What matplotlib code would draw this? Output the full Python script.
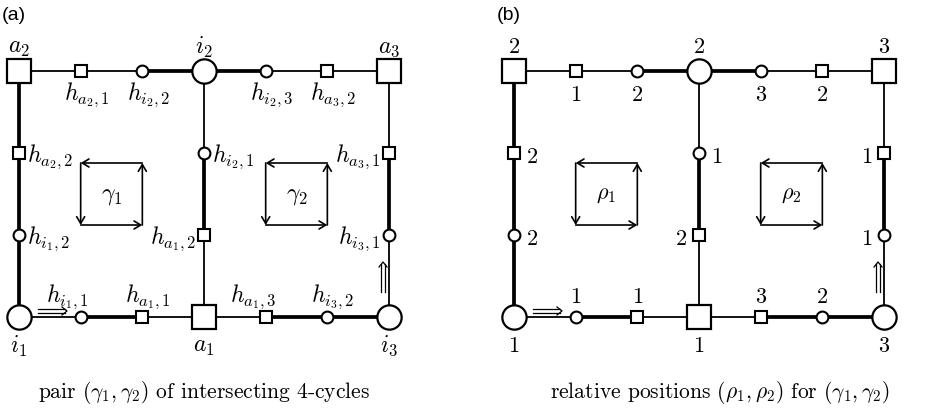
import matplotlib.pyplot as plt
from matplotlib.patches import FancyArrowPatch

plt.rcParams["mathtext.fontset"] = "cm"

# grid of 7 columns x 4 rows, cells given as (col, row)
big_cells = [(0, 0), (3, 0), (6, 0), (0, 3), (3, 3), (6, 3)]
big_kinds = ["s", "o", "s", "o", "s", "o"]
big_names = [r"$a_2$", r"$i_2$", r"$a_3$", r"$i_1$", r"$a_1$", r"$i_3$"]
big_ranks = [r"$2$", r"$2$", r"$3$", r"$1$", r"$1$", r"$3$"]

small_cells = [(1, 0), (2, 0), (4, 0), (5, 0),
               (1, 3), (2, 3), (4, 3), (5, 3),
               (0, 1), (0, 2), (3, 1), (3, 2), (6, 1), (6, 2)]
small_kinds = ["s", "o", "o", "s",
               "o", "s", "s", "o",
               "s", "o", "o", "s", "s", "o"]
small_names = [r"$h_{a_2,1}$", r"$h_{i_2,2}$", r"$h_{i_2,3}$", r"$h_{a_3,2}$",
               r"$h_{i_1,1}$", r"$h_{a_1,1}$", r"$h_{a_1,3}$", r"$h_{i_3,2}$",
               r"$h_{a_2,2}$", r"$h_{i_1,2}$", r"$h_{i_2,1}$", r"$h_{a_1,2}$",
               r"$h_{a_3,1}$", r"$h_{i_3,1}$"]
small_ranks = [r"$1$", r"$2$", r"$3$", r"$2$",
               r"$1$", r"$1$", r"$3$", r"$2$",
               r"$2$", r"$2$", r"$1$", r"$2$", r"$1$", r"$1$"]
small_sides = ["below"] * 4 + ["above"] * 4 + ["right", "right", "right", "left", "left", "left"]

# (start cell, end cell, thick?)
edges = [((0, 0), (1, 0), 0), ((1, 0), (2, 0), 0), ((2, 0), (3, 0), 1),
         ((3, 0), (4, 0), 1), ((4, 0), (5, 0), 0), ((5, 0), (6, 0), 0),
         ((0, 3), (1, 3), 0), ((1, 3), (2, 3), 1), ((2, 3), (3, 3), 0),
         ((3, 3), (4, 3), 0), ((4, 3), (5, 3), 1), ((5, 3), (6, 3), 1),
         ((0, 0), (0, 1), 1), ((0, 1), (0, 2), 1), ((0, 2), (0, 3), 1),
         ((3, 0), (3, 1), 0), ((3, 1), (3, 2), 1), ((3, 2), (3, 3), 0),
         ((6, 0), (6, 1), 0), ((6, 1), (6, 2), 1), ((6, 2), (6, 3), 0)]

cycle_cols = [(1, 2), (4, 5)]
cycle_names = [r"$\gamma_1$", r"$\gamma_2$"]
cycle_ranks = [r"$\rho_1$", r"$\rho_2$"]

# start direction arrows: along edge i1 -> h_{i1,1} and i3 -> h_{i3,1}
start_arrows = [((0, 3), (1, 3)), ((6, 3), (6, 2))]

captions = [r"pair $(\gamma_1,\gamma_2)$ of intersecting 4-cycles",
            r"relative positions $(\rho_1,\rho_2)$ for $(\gamma_1,\gamma_2)$"]
panel_tags = ["(a)", "(b)"]

# layout (pixels)
W, H = 937, 414
panel_x0 = [19, 514]
step_x = 61.67
row_y0, step_y = 72, 82


def px(panel, cell):
    return panel_x0[panel] + cell[0] * step_x, row_y0 + cell[1] * step_y


fig = plt.figure(figsize=(W / 100, H / 100), dpi=100)
ax = fig.add_axes([0, 0, 1, 1])
ax.set_xlim(0, W)
ax.set_ylim(H, 0)
ax.axis("off")

lab_fs = 17
num_fs = 16

for p in range(2):
    fs = lab_fs if p == 0 else num_fs
    # edges
    for a, b, thick in edges:
        (x1, y1), (x2, y2) = px(p, a), px(p, b)
        ax.plot([x1, x2], [y1, y2], color="black",
                lw=2.7 if thick else 1.3, solid_capstyle="butt", zorder=1)

    # big nodes
    for cell, kind, name, rank in zip(big_cells, big_kinds, big_names, big_ranks):
        x, y = px(p, cell)
        ax.plot(x, y, marker=kind, ms=17 if kind == "s" else 17.5,
                mfc="white", mec="black", mew=1.6, zorder=3)
        dy = -25 if cell[1] == 0 else 28
        ax.text(x, y + dy, name if p == 0 else rank, fontsize=fs,
                ha="center", va="center")

    # small nodes
    for cell, kind, name, rank, side in zip(small_cells, small_kinds, small_names,
                                            small_ranks, small_sides):
        x, y = px(p, cell)
        ax.plot(x, y, marker=kind, ms=8 if kind == "s" else 8.5,
                mfc="white", mec="black", mew=1.5, zorder=3)
        txt = name if p == 0 else rank
        if side == "below":
            ax.text(x + (6 if p == 0 else 0), y + 23, txt, fontsize=fs,
                    ha="center", va="center")
        elif side == "above":
            dx = (-13 if cell[0] in (1, 4) else 5) if p == 0 else 0
            ax.text(x + dx, y - 21, txt, fontsize=fs, ha="center", va="center")
        elif side == "right":
            ax.text(x + (8 if p == 0 else 12), y + 3, txt, fontsize=fs,
                    ha="left", va="center")
        else:
            ax.text(x - (8 if p == 0 else 12), y + 3, txt, fontsize=fs,
                    ha="right", va="center")

    # inner oriented cycles
    for (c1, c2), name, rank in zip(cycle_cols, cycle_names, cycle_ranks):
        xl, yt = px(p, (c1, 1))
        xr, _ = px(p, (c2, 1))
        yt = yt + 10
        yb = yt + 62
        corners = [(xr, yt), (xl, yt), (xl, yb), (xr, yb), (xr, yt)]
        for s, e in zip(corners[:-1], corners[1:]):
            ax.add_patch(FancyArrowPatch(s, e, arrowstyle="->,head_length=3,head_width=1.8",
                                         lw=1.2, color="black", shrinkA=0, shrinkB=0,
                                         mutation_scale=1.6, zorder=2))
        ax.text((xl + xr) / 2, (yt + yb) / 2, name if p == 0 else rank,
                fontsize=fs, ha="center", va="center")

    # double start arrows beside the first edge of each cycle
    for a, b in start_arrows:
        (x1, y1), (x2, y2) = px(p, a), px(p, b)
        if y1 == y2:
            xs, xe, yy = x1 + 19, x1 + 48, y1 - 6
            for o in (-1.6, 1.6):
                ax.plot([xs, xe - 2], [yy + o, yy + o], color="black", lw=0.9, zorder=2)
            ax.plot([xe - 5, xe, xe - 5], [yy - 4, yy, yy + 4], color="black", lw=0.9, zorder=2)
        else:
            ys, ye, xx = y1 - 25, y1 - 55, x1 - 6
            for o in (-1.6, 1.6):
                ax.plot([xx + o, xx + o], [ys, ye + 2], color="black", lw=0.9, zorder=2)
            ax.plot([xx - 4, xx, xx + 4], [ye + 5, ye, ye + 5], color="black", lw=0.9, zorder=2)

    cx = (px(p, (0, 0))[0] + px(p, (6, 0))[0]) / 2
    ax.text(cx + (0 if p == 0 else 21), 393, captions[p], fontsize=15.5,
            ha="center", va="center", fontfamily="cmr10")
    ax.text(panel_x0[p] - 17, 15, panel_tags[p], fontsize=14,
            fontfamily="Liberation Sans", ha="left", va="center")

fig.savefig("out.png", dpi=100)
